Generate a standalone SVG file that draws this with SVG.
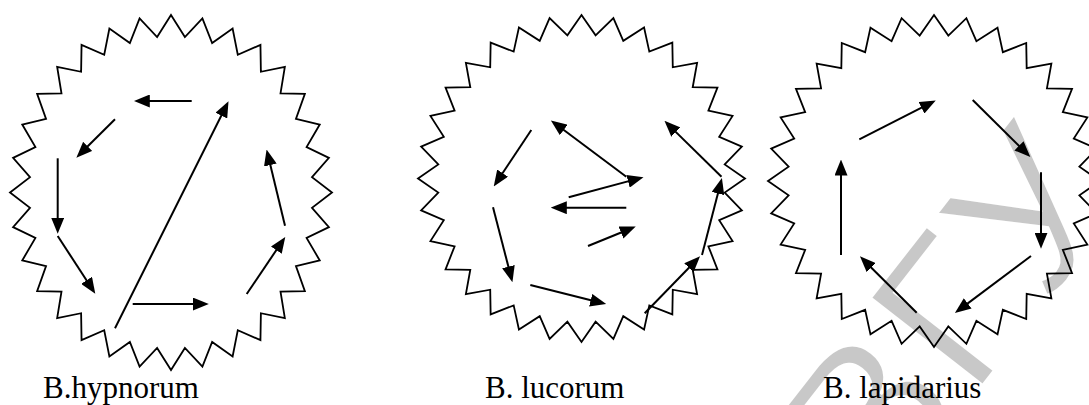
<svg xmlns="http://www.w3.org/2000/svg" xmlns:xlink="http://www.w3.org/1999/xlink" width="1089" height="405" viewBox="0 0 1089 405">
<style>
.star{fill:none;stroke:#000;stroke-width:1.8;stroke-linejoin:miter;vector-effect:non-scaling-stroke}
.arr{fill:none;stroke:#000;stroke-width:2;marker-end:url(#ah)}
</style>
<defs>
<marker id="ah" markerUnits="userSpaceOnUse" markerWidth="16" markerHeight="13" refX="9.5" refY="6.5" orient="auto">
<path d="M0,0 L16,6.5 L0,13 z" fill="#000"/>
</marker>
<polygon id="star" class="star" points="0,-100 8.63,-87.58 19.51,-98.08 25.55,-84.21 38.27,-92.39 41.48,-77.61 55.56,-83.15 55.83,-68.02 70.71,-70.71 68.02,-55.83 83.15,-55.56 77.61,-41.48 92.39,-38.27 84.21,-25.55 98.08,-19.51 87.58,-8.63 100,0 87.58,8.63 98.08,19.51 84.21,25.55 92.39,38.27 77.61,41.48 83.15,55.56 68.02,55.83 70.71,70.71 55.83,68.02 55.56,83.15 41.48,77.61 38.27,92.39 25.55,84.21 19.51,98.08 8.63,87.58 0,100 -8.63,87.58 -19.51,98.08 -25.55,84.21 -38.27,92.39 -41.48,77.61 -55.56,83.15 -55.83,68.02 -70.71,70.71 -68.02,55.83 -83.15,55.56 -77.61,41.48 -92.39,38.27 -84.21,25.55 -98.08,19.51 -87.58,8.63 -100,0 -87.58,-8.63 -98.08,-19.51 -84.21,-25.55 -92.39,-38.27 -77.61,-41.48 -83.15,-55.56 -68.02,-55.83 -70.71,-70.71 -55.83,-68.02 -55.56,-83.15 -41.48,-77.61 -38.27,-92.39 -25.55,-84.21 -19.51,-98.08 -8.63,-87.58"/>
</defs>
<rect width="1089" height="405" fill="#fff"/>
<g id="watermark">
<text transform="translate(883.6,512.6) rotate(-52)" x="0" y="0" font-family="Liberation Sans, Arial, sans-serif" font-size="207" fill="#c8c8c8" stroke="#fff" stroke-width="3" letter-spacing="6">ВГУ</text>
</g>
<g id="hypnorum">
<use href="#star" xlink:href="#star" transform="translate(171,192.5) scale(1.61,1.775)"/>
<text x="43" y="398" font-family="Liberation Serif, Times New Roman, serif" font-size="31" fill="#000">B.hypnorum</text>
</g>
<g id="lucorum">
<use href="#star" xlink:href="#star" transform="translate(581.5,178.5) scale(1.635)"/>
<text x="485" y="398" font-family="Liberation Serif, Times New Roman, serif" font-size="31" fill="#000">B. lucorum</text>
</g>
<g id="lapidarius">
<use href="#star" xlink:href="#star" transform="translate(934,181) scale(1.66)"/>
<text x="823" y="398" font-family="Liberation Serif, Times New Roman, serif" font-size="31" fill="#000">B. lapidarius</text>
</g>
<g id="connectors">
<line class="arr" x1="191.7" y1="101" x2="140.3" y2="101"/>
<line class="arr" x1="115" y1="119.3" x2="80.96" y2="153.08"/>
<line class="arr" x1="57.7" y1="158.3" x2="57.7" y2="227.3"/>
<line class="arr" x1="57.7" y1="236" x2="91.73" y2="288.27"/>
<line class="arr" x1="132.7" y1="304" x2="202.3" y2="304"/>
<line class="arr" x1="246.7" y1="294" x2="281.64" y2="242.27"/>
<line class="arr" x1="285" y1="225.7" x2="268.11" y2="155.83"/>
<line class="arr" x1="115" y1="328.3" x2="225.62" y2="107.07"/>
<line class="arr" x1="531.3" y1="130" x2="497.33" y2="181.01"/>
<line class="arr" x1="626.3" y1="176.7" x2="556.11" y2="124.29"/>
<line class="arr" x1="568.7" y1="197.3" x2="637.21" y2="178.86"/>
<line class="arr" x1="626.3" y1="207.7" x2="557.3" y2="207.7"/>
<line class="arr" x1="588" y1="246" x2="629.74" y2="228.97"/>
<line class="arr" x1="493" y1="207.3" x2="510.79" y2="275.89"/>
<line class="arr" x1="530.3" y1="285" x2="599.88" y2="302.53"/>
<line class="arr" x1="644.7" y1="313.3" x2="695.52" y2="261"/>
<line class="arr" x1="702" y1="255" x2="720.3" y2="184.31"/>
<line class="arr" x1="721.5" y1="176.7" x2="669.09" y2="125.4"/>
<line class="arr" x1="859.3" y1="139.3" x2="929.95" y2="103.42"/>
<line class="arr" x1="972.7" y1="100" x2="1025.73" y2="152.48"/>
<line class="arr" x1="1041" y1="172.3" x2="1041" y2="242.3"/>
<line class="arr" x1="1031" y1="256" x2="960.1" y2="309.1"/>
<line class="arr" x1="916.7" y1="312.7" x2="864.56" y2="260.93"/>
<line class="arr" x1="841" y1="255" x2="841" y2="166"/>
</g>
</svg>
